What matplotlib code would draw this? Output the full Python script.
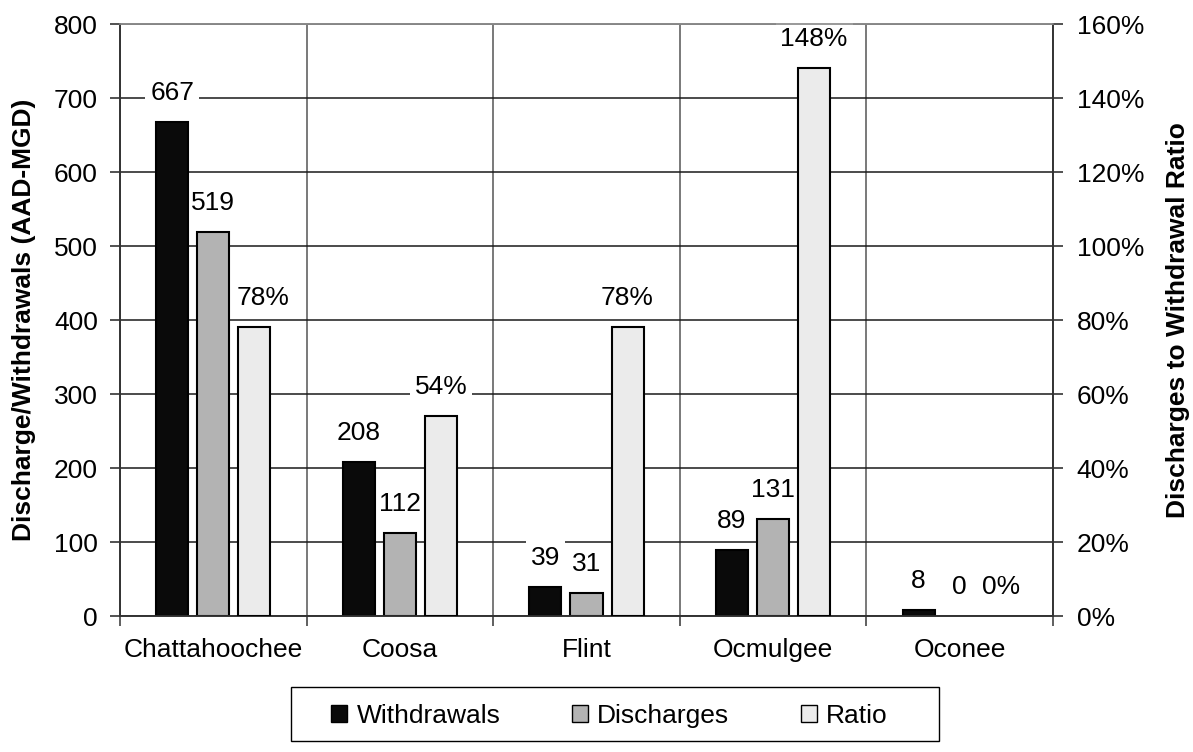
import matplotlib

matplotlib.use("Agg")

import matplotlib.pyplot as plt
import numpy as np
from matplotlib.patches import Patch, Rectangle
from matplotlib.ticker import FuncFormatter, FixedLocator

plt.rcParams["font.family"] = ["Liberation Sans", "DejaVu Sans"]

basins = ["Chattahoochee", "Coosa", "Flint", "Ocmulgee", "Oconee"]
withdrawals = [667, 208, 39, 89, 8]
discharges = [519, 112, 31, 131, 0]
ratio_pct = [78, 54, 78, 148, 0]

COLORS = {"Withdrawals": "#0a0a0a", "Discharges": "#b3b3b3", "Ratio": "#ebebeb"}
FONT = 19
W, H = 1193, 752


def label_bars(ax, bars, texts, nudge=None):
    nudge = nudge or {}
    for i, (bar, text) in enumerate(zip(bars, texts)):
        ax.annotate(
            text,
            (bar.get_x() + bar.get_width() / 2, bar.get_height()),
            xytext=(nudge.get(i, 0), 16),
            textcoords="offset points",
            ha="center",
            va="baseline",
            fontsize=FONT,
            zorder=2.5,  # above the grid, under the bars
            bbox=dict(boxstyle="square,pad=0.18", fc="white", ec="none"),
        )


def main() -> None:
    fig = plt.figure(figsize=(W / 100, H / 100), dpi=100)
    ax = fig.add_axes([120 / W, 1 - 616 / H, 933 / W, 592 / H])
    ax2 = ax.twinx()

    x = np.arange(len(basins))
    width = 0.172
    step = 0.22
    bar_kw = dict(edgecolor="black", linewidth=1.5, zorder=3)

    w_bars = ax.bar(x - step, withdrawals, width, color=COLORS["Withdrawals"], **bar_kw)
    d_bars = ax.bar(x, discharges, width, color=COLORS["Discharges"], **bar_kw)
    ratio = [v / 100 for v in ratio_pct]
    r_bars = ax2.bar(x + step, ratio, width, color=COLORS["Ratio"], **bar_kw)
    # zero values get no outline
    for bars, vals in [(d_bars, discharges), (r_bars, ratio_pct)]:
        for bar, v in zip(bars, vals):
            if v == 0:
                bar.set_linewidth(0)

    label_bars(ax, w_bars, [str(v) for v in withdrawals])
    label_bars(ax, d_bars, [str(v) for v in discharges])
    label_bars(ax2, r_bars, [f"{v}%" for v in ratio_pct], nudge={0: 6})

    ax.set_xlim(-0.5, len(basins) - 0.5)
    ax.set_ylim(0, 800)
    ax2.set_ylim(0, 1.6)
    ax.set_yticks(range(0, 801, 100))
    ax2.set_yticks(np.arange(0, 1.61, 0.2))
    ax2.yaxis.set_major_formatter(FuncFormatter(lambda v, _: f"{v * 100:.0f}%"))

    ax.set_xticks(x)
    ax.set_xticklabels(basins, fontsize=FONT)
    ax.xaxis.set_minor_locator(FixedLocator(np.arange(-0.5, len(basins), 1.0)))
    ax.tick_params(axis="x", which="major", length=0, pad=16)
    ax.tick_params(axis="x", which="minor", length=7, width=1.2, color="#444444")
    ax.tick_params(axis="y", labelsize=FONT, length=7, width=1.2, color="#333333", pad=9)
    ax2.tick_params(axis="y", labelsize=FONT, length=7, width=1.2, color="#333333", pad=10)

    ax.grid(True, which="major", axis="y", color="#1a1a1a", linewidth=1.1, zorder=0)
    ax.grid(True, which="minor", axis="x", color="#555555", linewidth=1.1, zorder=0)
    ax.set_axisbelow(True)

    for a in (ax, ax2):
        for side in ("left", "right", "bottom", "top"):
            a.spines[side].set_color("#333333")
            a.spines[side].set_linewidth(1.2)
        a.spines["top"].set_color("#888888")

    fig.text(24 / W, 1 - 320 / H, "Discharge/Withdrawals (AAD-MGD)", rotation=90,
             ha="center", va="center", fontsize=FONT, fontweight="bold")
    fig.text(1178 / W, 1 - 320 / H, "Discharges to Withdrawal Ratio", rotation=90,
             ha="center", va="center", fontsize=FONT, fontweight="bold")

    # legend box spans wider than its entries
    fig.patches.append(Rectangle((291 / W, 1 - 741 / H), 648 / W, 54 / H,
                                 transform=fig.transFigure, fill=False,
                                 edgecolor="black", linewidth=1.0))
    handles = [Patch(facecolor=c, edgecolor="black", linewidth=1.0, label=k)
               for k, c in COLORS.items()]
    fig.legend(
        handles=handles,
        loc="center left",
        bbox_to_anchor=(331 / W, 1 - 716 / H),
        ncol=3,
        fontsize=FONT,
        frameon=False,
        handlelength=0.62,
        handleheight=0.62,
        handletextpad=0.35,
        columnspacing=2.7,
        borderpad=0,
        borderaxespad=0,
    )

    fig.savefig("out.png", dpi=100)
    plt.close(fig)


if __name__ == "__main__":
    main()
